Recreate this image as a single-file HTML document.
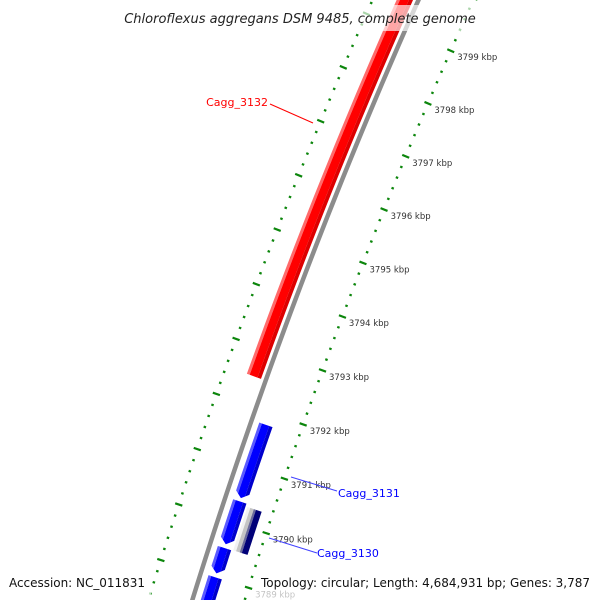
<!DOCTYPE html>
<html><head><meta charset="utf-8"><style>
html,body{margin:0;padding:0;background:#fff;width:600px;height:600px;overflow:hidden;}
#wrap{position:relative;width:600px;height:600px;overflow:hidden;}
svg{display:block;font-family:"DejaVu Sans","Liberation Sans",sans-serif;}
</style></head><body>
<div id="wrap">
<svg id="map" width="600" height="600" viewBox="0 0 600 600" xmlns="http://www.w3.org/2000/svg">
<g id="rings"></g>
<g id="feats"></g>
<g id="labels"></g>
<line x1="270" y1="104" x2="313" y2="123" stroke="#ff0000" stroke-width="1"/>
<text x="268" y="106" text-anchor="end" font-size="11" fill="#ff0000">Cagg_3132</text>
<line x1="291" y1="477" x2="337" y2="491" stroke="#4040ff" stroke-width="1"/>
<text x="338" y="497" font-size="11" fill="#0000ff">Cagg_3131</text>
<line x1="269" y1="538" x2="317" y2="553" stroke="#4040ff" stroke-width="1"/>
<text x="317" y="557" font-size="11" fill="#0000ff">Cagg_3130</text>
<rect x="108" y="5" width="384" height="26" fill="#fff" fill-opacity="0.65"/>
<text x="300" y="23" text-anchor="middle" font-size="13" font-style="italic" fill="#222">Chloroflexus aggregans DSM 9485, complete genome</text>
<rect x="3" y="572" width="148" height="28" fill="#fff" fill-opacity="0.7"/>
<text x="9" y="587" font-size="12" fill="#111" textLength="136">Accession: NC_011831</text>
<rect x="255" y="571" width="345" height="29" fill="#fff" fill-opacity="0.7"/>
<text x="590" y="587" font-size="12" fill="#111" text-anchor="end" textLength="329">Topology: circular; Length: 4,684,931 bp; Genes: 3,787</text>
</svg>
</div>
<script>
// data
const tickKbp = [3788,3789,3790,3791,3792,3793,3794,3795,3796,3797,3798,3799,3800,3801];
const labelKbp = [3789,3790,3791,3792,3793,3794,3795,3796,3797,3798,3799];
const featNames = ['Cagg_3132','Cagg_3131a','Cagg_3130a','Cagg_3130b','Cagg_3129','Cagg_3130'];
const featStart = [3792.5, 3790.44, 3789.60, 3789.07, 3787.5, 3789.54];
const featEnd = [3802.0, 3791.78, 3790.38, 3789.53, 3789.00, 3790.33];
const featStrand = [1, -1, -1, -1, -1, 0];
const featKind = ['red','blue','blue','blue','blue','gray'];

// geometry
const CX=5357, CY=2204, A0=18.17, DEG=0.614;
function ang(k){return (A0+(k-3790)*DEG)*Math.PI/180;}
function pt(k,r){const a=ang(k);return [CX-r*Math.cos(a), CY-r*Math.sin(a)];}
const NS='http://www.w3.org/2000/svg';
function mk(tag,attrs,parent){const e=document.createElementNS(NS,tag);for(const k in attrs)e.setAttribute(k,attrs[k]);parent.appendChild(e);return e;}
const rings=document.getElementById('rings'), feats=document.getElementById('feats'), labels=document.getElementById('labels');

// backbone
(function(){
  const pts=[];for(let k=3786;k<=3803;k+=0.25){pts.push(pt(k,5408).map(v=>v.toFixed(2)).join(','));}
  const p=mk('polyline',{points:pts.join(' '),fill:'none',stroke:'#8c8c8c','stroke-width':4.5},rings);
  
  
})();

// tick rings
const ringR=[5450,5358];
ringR.forEach((R,ri)=>{
  for(let i=0;i<tickKbp.length;i++){
    for(let j=0;j<5;j++){
      const k=tickKbp[i]+j*0.2;
      const major=(j===0);
      const len=major?7.5:2.5;
      const a=pt(k,R-len/2), b=pt(k,R+len/2);
      const l=mk('line',{x1:a[0],y1:a[1],x2:b[0],y2:b[1],stroke:'#0c860c','stroke-width':2.2},rings);
      
      
    }
  }
});

// tick labels
labelKbp.forEach(k=>{
  const p=pt(k,5358);
  const t=mk('text',{x:(p[0]+6.5).toFixed(1),y:(p[1]+9.5).toFixed(1),'font-size':8.5,fill:'#333'},labels);
  t.textContent=k+' kbp';
  
  
});

// features: drawn as stacked sub-bands (outer->inner) to mimic shading
const radii={red:[5413,5428],blue:[5386,5400],gray:[5369,5384]};
const shades={
  red:[[0,0.2,'#ff6a6a'],[0.2,0.75,'#ff0000'],[0.75,1,'#dd0000']],
  blue:[[0,0.2,'#5a5aff'],[0.2,0.75,'#0000ff'],[0.75,1,'#0000cc']],
  gray:[[0,0.2,'#f2f2f2'],[0.2,0.45,'#c4c4c4'],[0.45,0.6,'#6a6a9a'],[0.6,1,'#000078']]
};
for(let i=0;i<featStart.length;i++){
  const [r0,r1]=radii[featKind[i]];const rm=(r0+r1)/2;
  const s=featStart[i], e=featEnd[i], st=featStrand[i];
  const head=0.1;
  const g=mk('g',{},feats);
  
  
  shades[featKind[i]].forEach(sh=>{
    // sh[0]=0 is outer edge
    const ro=r1-(r1-r0)*sh[0], ri=r1-(r1-r0)*sh[1];
    // arrow head: interpolate along the tip for each radius
    function endK(r,isStart){
      const f=Math.abs(r-rm)/((r1-r0)/2);
      if(isStart&&st<0) return s+head*f;
      if(!isStart&&st>0) return e-head*f;
      return isStart?s:e;
    }
    const pts=[];const n=20;
    const ao=endK(ro,true), bo=endK(ro,false), ai=endK(ri,true), bi=endK(ri,false);
    for(let q=0;q<=n;q++) pts.push(pt(ao+(bo-ao)*q/n,ro));
    if(st>0 && ro>rm && ri<rm) pts.push(pt(e,rm));
    for(let q=n;q>=0;q--) pts.push(pt(ai+(bi-ai)*q/n,ri));
    if(st<0 && ro>rm && ri<rm) pts.push(pt(s,rm));
    const poly=mk('polygon',{points:pts.map(p=>p[0].toFixed(2)+','+p[1].toFixed(2)).join(' '),fill:sh[2]},g);
    
    
  });
}
</script>
</body></html>
